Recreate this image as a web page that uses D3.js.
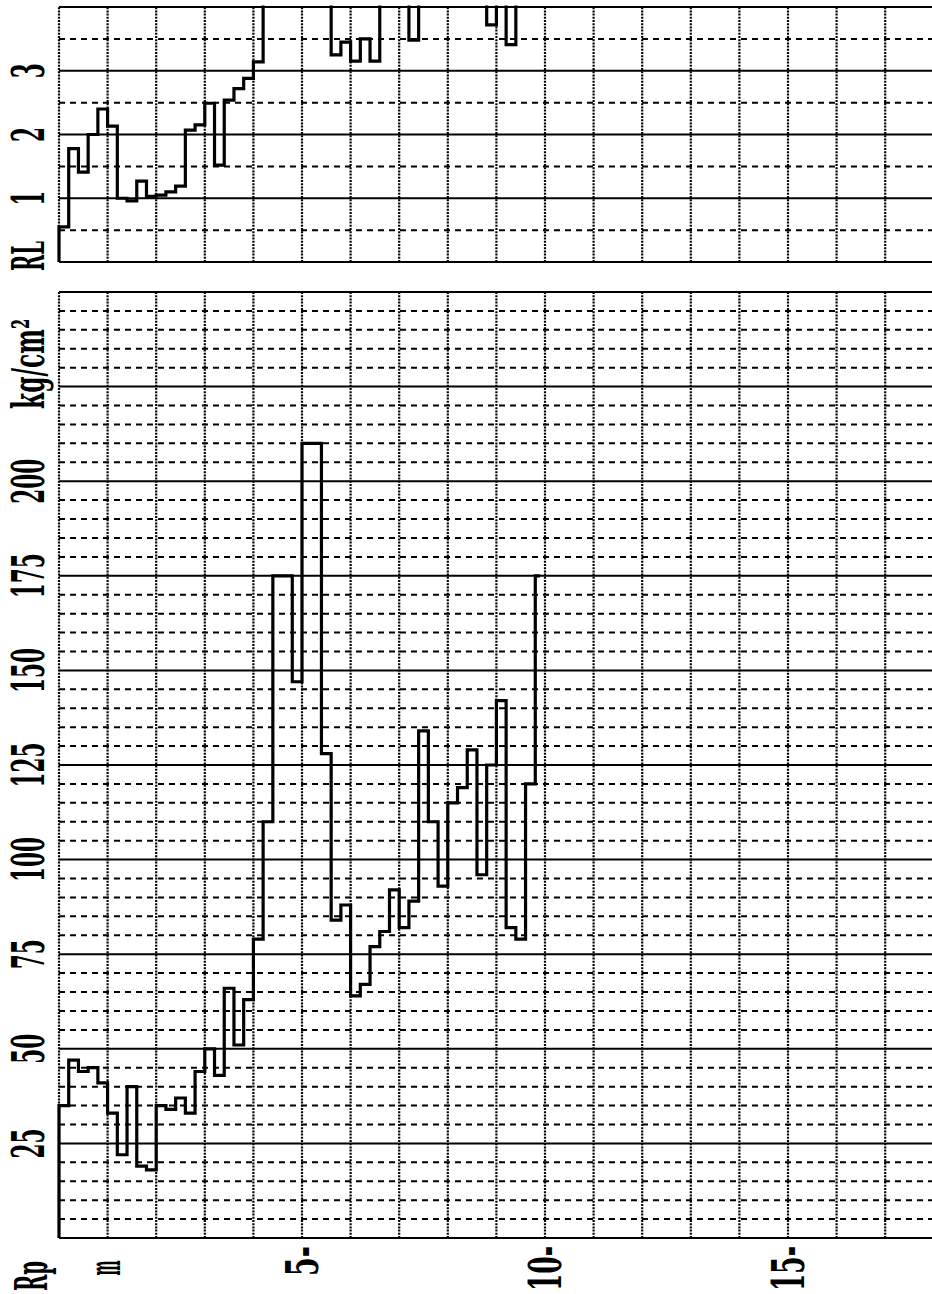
<!DOCTYPE html>
<html>
<head>
<meta charset="utf-8">
<script src="https://cdn.jsdelivr.net/npm/d3@7"></script>
<style>
  html, body { margin: 0; padding: 0; background: #fff; }
  svg { display: block; }
  text { font-family: "DejaVu Serif", "Liberation Serif", serif; font-weight: bold; fill: #000; }
</style>
</head>
<body>
<svg id="chart" width="932" height="1294"></svg>
<script>
// Top of each 0.2 m reading interval (m)
const depths = [0.0, 0.2, 0.4, 0.6, 0.8, 1.0, 1.2, 1.4, 1.6, 1.8,
                2.0, 2.2, 2.4, 2.6, 2.8, 3.0, 3.2, 3.4, 3.6, 3.8,
                4.0, 4.2, 4.4, 4.6, 4.8, 5.0, 5.2, 5.4, 5.6, 5.8,
                6.0, 6.2, 6.4, 6.6, 6.8, 7.0, 7.2, 7.4, 7.6, 7.8,
                8.0, 8.2, 8.4, 8.6, 8.8, 9.0, 9.2, 9.4, 9.6, 9.8];

// Cone resistance Rp (kg/cm²)
const rpValues = [35, 47, 44, 45, 41, 33, 22, 40, 19, 18,
                  35, 34, 37, 33, 44, 50, 43, 66, 51, 63,
                  79, 110, 175, 175, 147, 210, 210, 128, 84, 88,
                  64, 67, 77, 81, 92, 82, 89, 134, 110, 93,
                  115, 119, 129, 96, 125, 142, 82, 79, 120, 175];
const rpEndDepth = 9.9;

// Friction ratio RL
const rlValues = [0.55, 1.78, 1.41, 2.0, 2.4, 2.13, 1.0, 0.96, 1.27, 1.03,
                  1.05, 1.1, 1.19, 2.07, 2.15, 2.49, 1.52, 2.54, 2.72, 2.88,
                  3.14, 4.4, 4.8, 5.1, 4.9, 4.6, 4.5, 4.3, 3.25, 3.45,
                  3.15, 3.5, 3.15, 4.2, 4.4, 4.3, 3.48, 4.2, 4.5, 4.6,
                  4.4, 4.3, 4.5, 4.2, 3.72, 4.1, 3.41, 4.2, 4.4, 4.3];
const rlEndDepth = 9.9;

// Axis labels
const rpTicks = [25, 50, 75, 100, 125, 150, 175, 200];
const rlTicks = [1, 2, 3];
const depthTicks = [5, 10, 15];
const rpUnit = "kg/cm²";
const rpUnitAt = 231;

const W = 932, H = 1294;
const svg = d3.select("#chart");

// Depth runs left to right; values run upward
const x = d3.scaleLinear().domain([0, 18]).range([59, 59 + 18 * 48.6]);
const yRp = d3.scaleLinear().domain([0, 250]).range([1238, 292]);
const yRl = d3.scaleLinear().domain([0, 4]).range([262, 7]);

const gridLeft = x(0), gridRight = W;

function drawPanel(g, y, majors, minors) {
  const [y0, y1] = y.range();
  // vertical dotted depth lines (every metre)
  g.selectAll("line.v").data(d3.range(0, 19)).join("line")
    .attr("class", "v")
    .attr("x1", d => x(d)).attr("x2", d => x(d))
    .attr("y1", y0).attr("y2", y1)
    .attr("stroke", "#000").attr("stroke-width", 2.2)
    .attr("stroke-dasharray", "2,1.2");
  // dashed minor value lines
  g.selectAll("line.minor").data(minors).join("line")
    .attr("class", "minor")
    .attr("x1", gridLeft).attr("x2", gridRight)
    .attr("y1", d => y(d)).attr("y2", d => y(d))
    .attr("stroke", "#000").attr("stroke-width", 2)
    .attr("stroke-dasharray", "6,5");
  // solid major value lines (including frame top and bottom)
  g.selectAll("line.major").data(majors).join("line")
    .attr("class", "major")
    .attr("x1", gridLeft).attr("x2", gridRight)
    .attr("y1", d => y(d)).attr("y2", d => y(d))
    .attr("stroke", "#000").attr("stroke-width", 2);
}

const rpMajors = d3.range(0, 251, 25);
const rpMinors = d3.range(5, 250, 5).filter(v => v % 25 !== 0);
const rlMajors = [0, 1, 2, 3, 4];
const rlMinors = [0.5, 1.5, 2.5, 3.5];

drawPanel(svg.append("g"), yRp, rpMajors, rpMinors);
drawPanel(svg.append("g"), yRl, rlMajors, rlMinors);

// Step profiles
function profile(values, endDepth) {
  const pts = [{ d: 0, v: 0 }];
  values.forEach((v, i) => pts.push({ d: depths[i], v }));
  pts.push({ d: endDepth, v: values[values.length - 1] });
  return pts;
}

svg.append("defs").append("clipPath").attr("id", "rlClip")
  .append("rect")
  .attr("x", 0).attr("y", yRl(4) - 1.5)
  .attr("width", W).attr("height", yRl(0) - yRl(4) + 3);

const rpLine = d3.line().x(p => x(p.d)).y(p => yRp(p.v)).curve(d3.curveStepAfter);
const rlLine = d3.line().x(p => x(p.d)).y(p => yRl(p.v)).curve(d3.curveStepAfter);

svg.append("path")
  .datum(profile(rpValues, rpEndDepth))
  .attr("d", rpLine)
  .attr("fill", "none").attr("stroke", "#000").attr("stroke-width", 3.2)
  .attr("stroke-linejoin", "miter");

svg.append("path")
  .datum(profile(rlValues, rlEndDepth))
  .attr("clip-path", "url(#rlClip)")
  .attr("d", rlLine)
  .attr("fill", "none").attr("stroke", "#000").attr("stroke-width", 3.2)
  .attr("stroke-linejoin", "miter");

// Rotated labels (text reads bottom to top), each character about 15 px long
const FS = 45, ADV = 15;
function rotLabel(txt, bx, cy, anchor, size) {
  svg.append("text")
    .attr("transform", `translate(${bx},${cy}) rotate(-90)`)
    .attr("text-anchor", anchor)
    .attr("font-size", size || FS)
    .attr("textLength", ADV * [...txt].length)
    .attr("lengthAdjust", "spacingAndGlyphs")
    .text(txt);
}

const labelBase = 44;
rpTicks.forEach(t => rotLabel(String(t), labelBase, yRp(t), "middle"));
rotLabel(rpUnit, labelBase, yRp(rpUnitAt), "middle");
rlTicks.forEach(t => rotLabel(String(t), labelBase, yRl(t), "middle"));
rotLabel("RL", labelBase, 256, "middle");

// Depth axis labels under the chart
rotLabel("Rp", 47, 1276, "middle");
rotLabel("m", x(1) + 12, 1268, "middle");
depthTicks.forEach(t => rotLabel(t + "-", x(t) + 16, 1246, "end"));
</script>
</body>
</html>
